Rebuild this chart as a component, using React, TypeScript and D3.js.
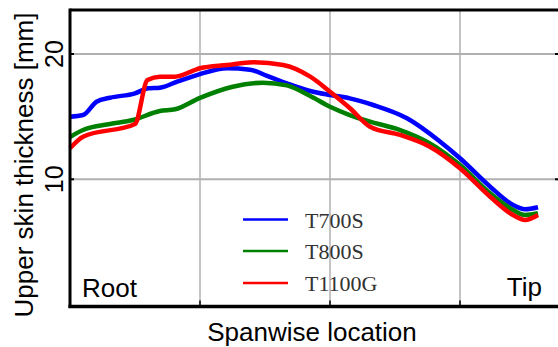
import React from "react";
import * as d3 from "d3";

// spanwise position (0 = root side of frame, 1 = far right of frame)
const spanT700S = [0, 0.025, 0.051, 0.077, 0.125, 0.15, 0.173, 0.206, 0.25, 0.302, 0.346, 0.379, 0.417, 0.462, 0.5, 0.538, 0.583, 0.648, 0.712, 0.75, 0.808, 0.852, 0.875, 0.9];
const thickT700S = [15.0, 15.13, 16.19, 16.51, 16.86, 17.26, 17.31, 17.79, 18.4, 18.86, 18.75, 18.25, 17.66, 17.05, 16.73, 16.46, 15.93, 14.87, 13.0, 11.68, 9.41, 7.95, 7.61, 7.77];

const spanT800S = [0, 0.025, 0.077, 0.121, 0.173, 0.202, 0.25, 0.313, 0.371, 0.417, 0.462, 0.5, 0.538, 0.577, 0.635, 0.692, 0.75, 0.808, 0.852, 0.875, 0.9];
const thickT800S = [13.38, 13.93, 14.41, 14.73, 15.45, 15.59, 16.5, 17.39, 17.71, 17.5, 16.65, 15.79, 15.13, 14.6, 13.93, 12.87, 11.14, 8.88, 7.55, 7.15, 7.29];

const spanT1100G = [0, 0.025, 0.125, 0.149, 0.173, 0.202, 0.237, 0.25, 0.302, 0.352, 0.41, 0.462, 0.5, 0.538, 0.577, 0.635, 0.692, 0.75, 0.808, 0.852, 0.875, 0.9];
const thickT1100G = [12.47, 13.4, 14.41, 17.92, 18.19, 18.19, 18.67, 18.86, 19.12, 19.34, 19.12, 18.19, 16.99, 15.69, 14.2, 13.54, 12.6, 10.88, 8.61, 7.15, 6.75, 7.15];

const seriesNames = ["T700S", "T800S", "T1100G"];
const seriesColors = ["#0000ff", "#008000", "#ff0000"];
const seriesSpans = [spanT700S, spanT800S, spanT1100G];
const seriesThick = [thickT700S, thickT800S, thickT1100G];

const yTicks = [10, 20];
const xGrid = [0.25, 0.5, 0.75];

export default function App() {
  const W = 558, H = 347;
  const left = 70, right = 590, top = 10, bottom = 306.5;
  const x = d3.scaleLinear().domain([0, 1]).range([left, right]);
  const y = d3.scaleLinear().domain([0, 23.5]).range([304.6, 304.6 - 23.5 * 12.53]);

  const line = d3
    .line<[number, number]>()
    .x((d) => x(d[0]))
    .y((d) => y(d[1]))
    .curve(d3.curveMonotoneX);

  const sans = "'Liberation Sans', Arial, sans-serif";
  const serif = "'Liberation Serif', 'Times New Roman', serif";

  const legendY = [219.5, 251, 283];

  return (
    <svg
      width={W}
      height={H}
      style={{ position: "absolute", left: 0, top: 0, display: "block", background: "#fff" }}
    >
      <rect x={0} y={0} width={W} height={H} fill="#fff" />
      {/* grid */}
      {xGrid.map((g) => (
        <line key={"gx" + g} x1={x(g)} x2={x(g)} y1={top} y2={bottom} stroke="#b0b0b0" strokeWidth={1.5} />
      ))}
      {yTicks.map((t) => (
        <line key={"gy" + t} x1={left} x2={W} y1={y(t)} y2={y(t)} stroke="#b0b0b0" strokeWidth={2} />
      ))}
      {/* series */}
      {seriesNames.map((n, i) => {
        const pts = seriesSpans[i].map((s, j) => [s, seriesThick[i][j]] as [number, number]);
        return (
          <path key={n} d={line(pts) || ""} fill="none" stroke={seriesColors[i]} strokeWidth={4.5} strokeLinejoin="round" />
        );
      })}
      {/* frame */}
      <line x1={left} x2={W} y1={top} y2={top} stroke="#000" strokeWidth={3} />
      <line x1={left} x2={left} y1={top - 1.5} y2={bottom + 1.5} stroke="#000" strokeWidth={3} />
      <line x1={left - 1.5} x2={W} y1={bottom} y2={bottom} stroke="#000" strokeWidth={3.5} />
      {/* ticks */}
      {yTicks.map((t) => (
        <g key={"t" + t}>
          <line x1={left} x2={left + 4} y1={y(t)} y2={y(t)} stroke="#000" strokeWidth={2} />
          <line x1={W - 3} x2={W} y1={y(t)} y2={y(t)} stroke="#000" strokeWidth={2} />
          <text
            transform={`translate(63,${y(t)}) rotate(-90)`}
            textAnchor="middle"
            fontFamily={sans}
            fontSize={25}
            fill="#000"
          >
            {t}
          </text>
        </g>
      ))}
      {xGrid.map((g) => (
        <line key={"tx" + g} x1={x(g)} x2={x(g)} y1={bottom} y2={bottom - 6} stroke="#000" strokeWidth={1.5} />
      ))}
      {/* axis labels */}
      <text
        transform={`translate(33,165) rotate(-90)`}
        textAnchor="middle"
        fontFamily={sans}
        fontSize={26}
        fill="#000"
      >
        Upper skin thickness [mm]
      </text>
      <text x={312} y={341} textAnchor="middle" fontFamily={sans} fontSize={26} fill="#000">
        Spanwise location
      </text>
      <text x={82} y={297} fontFamily={sans} fontSize={26} fill="#000">
        Root
      </text>
      <text x={542} y={296} textAnchor="end" fontFamily={sans} fontSize={26} fill="#000">
        Tip
      </text>
      {/* legend */}
      {seriesNames.map((n, i) => (
        <g key={"lg" + n}>
          <line x1={243} x2={288} y1={legendY[i]} y2={legendY[i]} stroke={seriesColors[i]} strokeWidth={2.5} />
          <text x={305} y={legendY[i] + 8} fontFamily={serif} fontSize={22} fill="#333">
            {n}
          </text>
        </g>
      ))}
    </svg>
  );
}
